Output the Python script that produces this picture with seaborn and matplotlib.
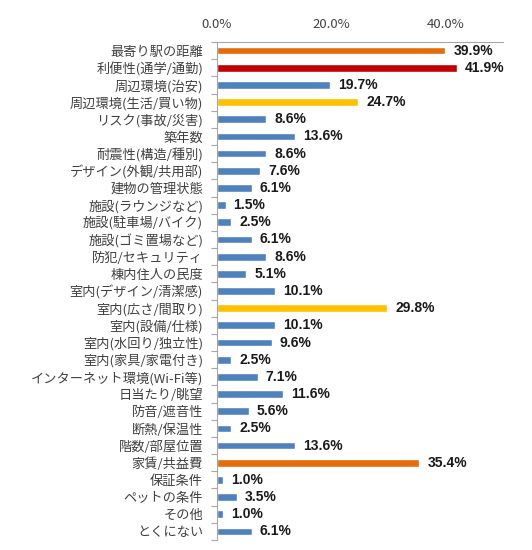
import matplotlib
matplotlib.use("Agg")
import matplotlib.pyplot as plt
import seaborn as sns
import pandas as pd
import numpy as np
from matplotlib.ticker import FixedLocator, FuncFormatter

categories = [
    "最寄り駅の距離", "利便性(通学/通勤)", "周辺環境(治安)", "周辺環境(生活/買い物)",
    "リスク(事故/災害)", "築年数", "耐震性(構造/種別)", "デザイン(外観/共用部)",
    "建物の管理状態", "施設(ラウンジなど)", "施設(駐車場/バイク)", "施設(ゴミ置場など)",
    "防犯/セキュリティ", "棟内住人の民度", "室内(デザイン/清潔感)", "室内(広さ/間取り)",
    "室内(設備/仕様)", "室内(水回り/独立性)", "室内(家具/家電付き)", "インターネット環境(Wi-Fi等)",
    "日当たり/眺望", "防音/遮音性", "断熱/保温性", "階数/部屋位置", "家賃/共益費",
    "保証条件", "ペットの条件", "その他", "とくにない",
]
values = [39.9, 41.9, 19.7, 24.7, 8.6, 13.6, 8.6, 7.6, 6.1, 1.5, 2.5, 6.1, 8.6, 5.1,
          10.1, 29.8, 10.1, 9.6, 2.5, 7.1, 11.6, 5.6, 2.5, 13.6, 35.4, 1.0, 3.5, 1.0, 6.1]
xticks = [0, 20, 40]

BLUE, ORANGE, RED, YELLOW = "#4F81BD", "#E46C0A", "#C00000", "#FFC000"
highlight = {"最寄り駅の距離": ORANGE, "利便性(通学/通勤)": RED,
             "周辺環境(生活/買い物)": YELLOW, "室内(広さ/間取り)": YELLOW,
             "家賃/共益費": ORANGE}
palette = {c: highlight.get(c, BLUE) for c in categories}

sns.set_theme(style="white")
plt.rcParams["font.family"] = ["Noto Sans CJK JP", "DejaVu Sans"]

df = pd.DataFrame({"cat": categories, "val": values})

fig = plt.figure(figsize=(5.32, 5.5), dpi=100)
ax = fig.add_axes([217/532, 1-540/550, (503-217)/532, (540-42)/550])
sns.barplot(data=df, y="cat", x="val", hue="cat", palette=palette, order=categories,
            hue_order=categories, legend=False, width=0.45, saturation=1, ax=ax)

ax.set_xlim(0, 50)
ax.set_ylim(len(categories)-0.5, -0.5)
ax.xaxis.tick_top()
ax.set_xticks(xticks)
ax.xaxis.set_major_formatter(FuncFormatter(lambda v, p: f"{v:.1f}%"))
ax.tick_params(axis="x", length=0, pad=8, labelsize=9.5, labelcolor="#404040")
ax.tick_params(axis="y", which="major", length=0, pad=10, labelsize=9.5, labelcolor="#404040")
ax.yaxis.set_minor_locator(FixedLocator(np.arange(-0.5, len(categories), 1.0)))
ax.tick_params(axis="y", which="minor", length=4, width=0.8, color="#A6A6A6", left=True)
ax.set_xlabel("")
ax.set_ylabel("")

for s in ["right", "bottom"]:
    ax.spines[s].set_visible(False)
for s in ["left", "top"]:
    ax.spines[s].set_color("#A6A6A6")
    ax.spines[s].set_linewidth(0.8)

for i, v in enumerate(values):
    ax.text(v + 1.4, i, f"{v:.1f}%", va="center", ha="left", fontsize=10,
            fontweight="bold", color="#1a1a1a", family=["Liberation Sans", "DejaVu Sans"])

fig.savefig("out.png", dpi=100)
